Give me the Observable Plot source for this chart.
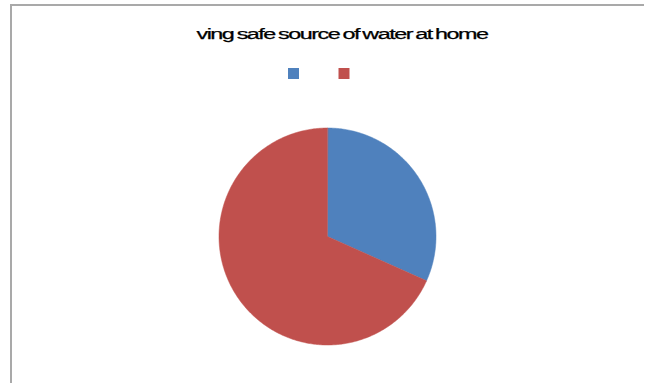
<!DOCTYPE html>
<html><head><meta charset="utf-8">
<script src="https://cdn.jsdelivr.net/npm/d3@7"></script>
<script src="https://cdn.jsdelivr.net/npm/@observablehq/plot@0.6"></script>
<style>
body{margin:0;background:#fff;}
#wrap{position:relative;width:648px;height:383px;overflow:hidden;}
#border{position:absolute;left:10px;top:4px;width:632px;height:420px;border-top:2px solid #a9a9a9;border-left:2px solid #a9a9a9;pointer-events:none;}
#chart svg{display:block;}
.ttl text{letter-spacing:-0.9px;word-spacing:-1px;}
</style>
</head><body>
<div id="wrap"><div id="chart"></div><div id="border"></div></div>
<script>
const title = "ving safe source of water at home";
const categories = ["Yes", "No"];
const values = [31.7, 68.3];
const colors = ["#4f81bd", "#c0504d"];

const W = 648, H = 383, cx = 327, cy = 236, R = 108.5;
const arcs = d3.pie().sort(null)(values);
const pts = [];
arcs.forEach((p, i) => {
  const cat = categories[i];
  pts.push({cat, px: 0, py: 0});
  const n = Math.max(2, Math.ceil((p.endAngle - p.startAngle) * 80));
  for (let j = 0; j <= n; j++) {
    const a = p.startAngle + (p.endAngle - p.startAngle) * j / n;
    pts.push({cat, px: Math.sin(a), py: Math.cos(a)});
  }
});

const chart = Plot.plot({
  width: W, height: H,
  margin: 0,
  x: {domain: [(0 - cx) / R, (W - cx) / R], axis: null},
  y: {domain: [(cy - H) / R, cy / R], axis: null},
  color: {domain: categories, range: colors},
  style: {background: "#fff"},
  marks: [
    Plot.line(pts, {x: "px", y: "py", z: "cat", fill: "cat", stroke: "cat", strokeWidth: 0.5, curve: "linear-closed"}),
    Plot.text([title], {frameAnchor: "top", dx: 17.5, dy: 34, fontSize: 14, fill: "#000", stroke: "#000", strokeWidth: 0.25, fontFamily: "Liberation Sans, Arial, sans-serif", lineAnchor: "middle", className: "ttl"}),
    Plot.dot([categories[0]], {frameAnchor: "top", dx: 293 - W / 2, dy: 73, symbol: "square", r: 6.2, fill: d => d, stroke: null}),
    Plot.dot([categories[1]], {frameAnchor: "top", dx: 343.5 - W / 2, dy: 73, symbol: "square", r: 6.2, fill: d => d, stroke: null})
  ]
});
d3.select(chart).selectAll(".ttl text")
  .attr("textLength", 291)
  .attr("lengthAdjust", "spacingAndGlyphs");
document.getElementById("chart").appendChild(chart);
</script>
</body></html>
